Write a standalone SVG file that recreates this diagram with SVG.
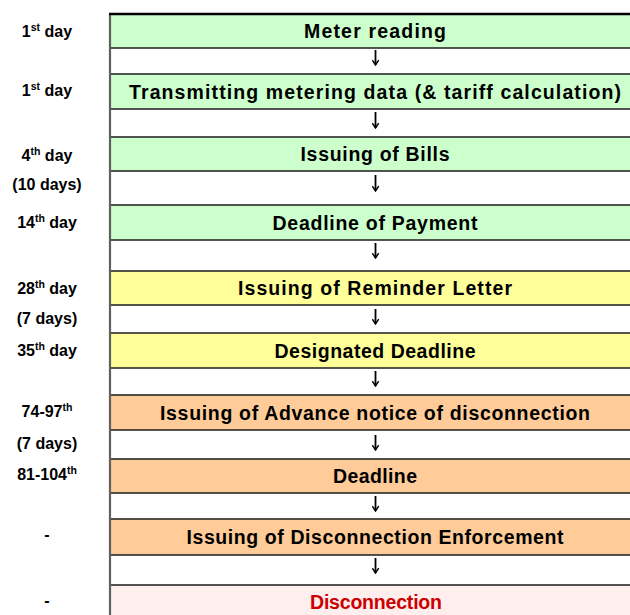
<svg xmlns="http://www.w3.org/2000/svg" width="630" height="615" viewBox="0 0 630 615">
<defs>
<style>
.box{stroke:#2a2a2a;stroke-width:1.6}
.g{fill:#ccffcc}.y{fill:#ffff99}.o{fill:#ffcc99}.p{fill:#ffeeee}
.t{font-family:"Liberation Sans",Arial,sans-serif;font-weight:bold;font-size:19.5px;fill:#000;text-anchor:middle}
.red{fill:#cc0000}
.lb{font-family:"Liberation Sans",Arial,sans-serif;font-weight:bold;font-size:16px;fill:#000;text-anchor:middle}
.sup{font-size:10.5px}
.conn line{stroke:#000;stroke-width:1.8}
</style>
<marker id="ah" viewBox="0 0 10 10" refX="9" refY="5" markerWidth="8" markerHeight="8" markerUnits="userSpaceOnUse" orient="auto">
<path d="M3,1 L9,5 L3,9" fill="none" stroke="#000" stroke-width="1.8"/>
</marker>
</defs>
<rect width="630" height="615" fill="#fff"/>

<g id="n1"><rect class="box g" x="110" y="14" width="530" height="34"/><text class="t" x="375" y="38" textLength="142">Meter reading</text></g>
<g id="n2"><rect class="box g" x="110" y="74" width="530" height="35"/><text class="t" x="375" y="98.5" textLength="492">Transmitting metering data (&amp; tariff calculation)</text></g>
<g id="n3"><rect class="box g" x="110" y="137" width="530" height="34"/><text class="t" x="375" y="161" textLength="149">Issuing of Bills</text></g>
<g id="n4"><rect class="box g" x="110" y="205" width="530" height="35"/><text class="t" x="375" y="229.5" textLength="205">Deadline of Payment</text></g>
<g id="n5"><rect class="box y" x="110" y="271" width="530" height="34"/><text class="t" x="375" y="295" textLength="274">Issuing of Reminder Letter</text></g>
<g id="n6"><rect class="box y" x="110" y="333" width="530" height="35"/><text class="t" x="375" y="357.5" textLength="201">Designated Deadline</text></g>
<g id="n7"><rect class="box o" x="110" y="395" width="530" height="35"/><text class="t" x="375" y="419.5" textLength="430">Issuing of Advance notice of disconnection</text></g>
<g id="n8"><rect class="box o" x="110" y="459" width="530" height="34"/><text class="t" x="375" y="483" textLength="84">Deadline</text></g>
<g id="n9"><rect class="box o" x="110" y="519" width="530" height="36"/><text class="t" x="375" y="544" textLength="377">Issuing of Disconnection Enforcement</text></g>
<g id="n10"><rect class="box p" x="110" y="585" width="530" height="40"/><text class="t red" x="376" y="609" textLength="132">Disconnection</text></g>

<g id="frame">
<line x1="110" y1="14" x2="110" y2="615" stroke="#606060" stroke-width="2.2"/>
<line x1="109" y1="14" x2="630" y2="14" stroke="#000" stroke-width="2.6"/>
</g>

<g id="labels">
<text class="lb" x="47" y="37">1<tspan class="sup" dy="-6">st</tspan><tspan dy="6"> day</tspan></text>
<text class="lb" x="47" y="96">1<tspan class="sup" dy="-6">st</tspan><tspan dy="6"> day</tspan></text>
<text class="lb" x="47" y="161">4<tspan class="sup" dy="-6">th</tspan><tspan dy="6"> day</tspan></text>
<text class="lb" x="47" y="190">(10 days)</text>
<text class="lb" x="47" y="228">14<tspan class="sup" dy="-6">th</tspan><tspan dy="6"> day</tspan></text>
<text class="lb" x="47" y="294">28<tspan class="sup" dy="-6">th</tspan><tspan dy="6"> day</tspan></text>
<text class="lb" x="47" y="324">(7 days)</text>
<text class="lb" x="47" y="356">35<tspan class="sup" dy="-6">th</tspan><tspan dy="6"> day</tspan></text>
<text class="lb" x="47" y="417">74-97<tspan class="sup" dy="-6">th</tspan></text>
<text class="lb" x="47" y="449">(7 days)</text>
<text class="lb" x="47" y="480">81-104<tspan class="sup" dy="-6">th</tspan></text>
<text class="lb" x="47" y="540">-</text>
<text class="lb" x="47" y="606">-</text>
</g>

<g id="connectors" class="conn">
<line x1="375.5" y1="50" x2="375.5" y2="65" marker-end="url(#ah)"/>
<line x1="375.5" y1="112" x2="375.5" y2="128" marker-end="url(#ah)"/>
<line x1="375.5" y1="175" x2="375.5" y2="191" marker-end="url(#ah)"/>
<line x1="375.5" y1="243" x2="375.5" y2="258" marker-end="url(#ah)"/>
<line x1="375.5" y1="309" x2="375.5" y2="324" marker-end="url(#ah)"/>
<line x1="375.5" y1="371" x2="375.5" y2="386" marker-end="url(#ah)"/>
<line x1="375.5" y1="435" x2="375.5" y2="450" marker-end="url(#ah)"/>
<line x1="375.5" y1="496" x2="375.5" y2="511" marker-end="url(#ah)"/>
<line x1="375.5" y1="558" x2="375.5" y2="573" marker-end="url(#ah)"/>
</g>
</svg>
